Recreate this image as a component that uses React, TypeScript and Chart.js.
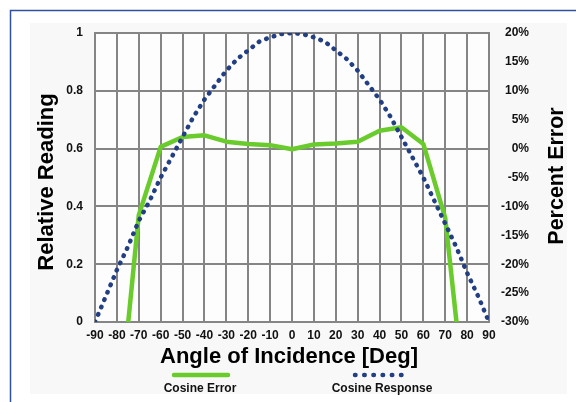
import React, { useEffect, useRef } from "react";
import { Chart, registerables } from "chart.js";

Chart.register(...registerables);

// ---- data ----
const responseAngles = [-90, -85, -80, -75, -70, -65, -60, -55, -50, -45, -40, -35, -30, -25, -20, -15, -10, -5, 0, 5, 10, 15, 20, 25, 30, 35, 40, 45, 50, 55, 60, 65, 70, 75, 80, 85, 90];
const responseValues = [0, 0.09, 0.18, 0.26, 0.35, 0.42, 0.5, 0.57, 0.64, 0.71, 0.77, 0.82, 0.87, 0.91, 0.94, 0.97, 0.985, 0.996, 1, 0.996, 0.985, 0.97, 0.94, 0.91, 0.87, 0.82, 0.77, 0.71, 0.64, 0.57, 0.5, 0.42, 0.34, 0.26, 0.17, 0.09, 0];

const errorAngles = [-80, -70, -60, -50, -40, -30, -20, -10, 0, 10, 20, 30, 40, 50, 60, 70, 80];
const errorValues = [-50, -11.5, 0.3, 2.0, 2.3, 1.2, 0.8, 0.6, -0.1, 0.7, 0.9, 1.2, 3.1, 3.7, 0.8, -12, -47];

const xTickStep = 10;
const leftTickStep = 0.2;
const rightTickStep = 5;

const seriesNames = ["Cosine Error", "Cosine Response"];
const xTitle = "Angle of Incidence [Deg]";
const leftTitle = "Relative Reading";
const rightTitle = "Percent Error";

const GREEN = "#6acb2c";
const NAVY = "#213f82";
const GRID = "#858585";
const FONT = "'Liberation Sans', Arial, Helvetica, sans-serif";

const decorPlugin = {
  id: "decor",
  beforeDraw(chart: any) {
    const ctx = chart.ctx as CanvasRenderingContext2D;
    const a = chart.chartArea;
    ctx.save();
    ctx.fillStyle = "#ffffff";
    ctx.fillRect(0, 0, chart.width, chart.height);
    ctx.fillStyle = "#f8f8f8";
    ctx.fillRect(30, 23, 537, 371);
    ctx.strokeStyle = "#2f52a0";
    ctx.lineWidth = 1.5;
    ctx.strokeRect(10.5, 10.5, 700, 500);
    ctx.fillStyle = "#fdfdfd";
    ctx.fillRect(a.left, a.top, a.right - a.left, a.bottom - a.top);
    ctx.restore();
  },
  afterDraw(chart: any) {
    const ctx = chart.ctx as CanvasRenderingContext2D;
    const a = chart.chartArea;
    const midX = (a.left + a.right) / 2;
    ctx.save();
    ctx.fillStyle = "#000";
    ctx.textBaseline = "alphabetic";
    ctx.textAlign = "center";

    // x title
    ctx.font = `bold 22px ${FONT}`;
    ctx.fillText(xTitle, midX - 3, 363);

    // left title
    ctx.save();
    ctx.translate(53, 182);
    ctx.rotate(-Math.PI / 2);
    ctx.font = `bold 22px ${FONT}`;
    ctx.fillText(leftTitle, 0, 0);
    ctx.restore();

    // right title
    ctx.save();
    ctx.translate(563, 176);
    ctx.rotate(-Math.PI / 2);
    ctx.font = `bold 21.5px ${FONT}`;
    ctx.fillText(rightTitle, 0, 0);
    ctx.restore();

    // legend
    const dsErr = chart.data.datasets[1];
    const dsResp = chart.data.datasets[0];
    ctx.lineCap = "round";
    ctx.strokeStyle = dsErr.borderColor;
    ctx.lineWidth = dsErr.borderWidth;
    ctx.beginPath();
    ctx.moveTo(174, 375);
    ctx.lineTo(228, 375);
    ctx.stroke();

    ctx.strokeStyle = dsResp.borderColor;
    ctx.lineWidth = dsResp.borderWidth;
    ctx.setLineDash([0.5, 8.7]);
    ctx.beginPath();
    ctx.moveTo(355, 375);
    ctx.lineTo(409, 375);
    ctx.stroke();
    ctx.setLineDash([]);

    ctx.font = `bold 12px ${FONT}`;
    ctx.fillStyle = "#111";
    ctx.fillText(dsErr.label, 200, 392);
    ctx.fillText(dsResp.label, 382, 392);
    ctx.restore();
  },
};

export default function App() {
  const ref = useRef<HTMLCanvasElement | null>(null);

  useEffect(() => {
    if (!ref.current) return;
    const chart = new Chart(ref.current, {
      type: "line",
      data: {
        datasets: [
          {
            label: seriesNames[1],
            data: responseAngles.map((x, i) => ({ x, y: responseValues[i] })),
            yAxisID: "yL",
            borderColor: NAVY,
            borderWidth: 4.5,
            borderDash: [0.5, 7.5],
            borderCapStyle: "round",
            pointRadius: 0,
            fill: false,
            tension: 0,
            order: 0,
          },
          {
            label: seriesNames[0],
            data: errorAngles.map((x, i) => ({ x, y: errorValues[i] })),
            yAxisID: "yR",
            borderColor: GREEN,
            borderWidth: 4.5,
            pointRadius: 0,
            fill: false,
            tension: 0,
            borderJoinStyle: "round",
            order: 1,
          },
        ],
      } as any,
      options: {
        responsive: false,
        animation: false,
        devicePixelRatio: 1,
        layout: { padding: { left: 0, top: 33, right: 47, bottom: 0 } },
        plugins: {
          legend: { display: false },
          tooltip: { enabled: false },
          title: { display: false },
        },
        scales: {
          x: {
            type: "linear",
            min: -90,
            max: 90,
            afterFit: (s: any) => {
              s.height = 80;
            },
            ticks: {
              stepSize: xTickStep,
              padding: 6,
              color: "#111",
              font: { family: FONT, size: 12, weight: "bold" },
              maxRotation: 0,
              autoSkip: false,
            },
            grid: { color: GRID, lineWidth: 2, drawTicks: false },
            border: { color: GRID, width: 2 },
          },
          yL: {
            type: "linear",
            position: "left",
            min: 0,
            max: 1,
            afterFit: (s: any) => {
              s.width = 95;
            },
            ticks: {
              stepSize: leftTickStep,
              padding: 12,
              color: "#111",
              font: { family: FONT, size: 12, weight: "bold" },
              callback: (v: any) => String(Math.round(Number(v) * 10) / 10),
            },
            grid: { color: GRID, lineWidth: 2, drawTicks: false },
            border: { color: GRID, width: 2 },
          },
          yR: {
            type: "linear",
            position: "right",
            min: -30,
            max: 20,
            afterFit: (s: any) => {
              s.width = 40;
            },
            ticks: {
              stepSize: rightTickStep,
              padding: 12,
              crossAlign: "far",
              color: "#111",
              font: { family: FONT, size: 12, weight: "bold" },
              callback: (v: any) => `${v}%`,
            },
            grid: { display: false, drawTicks: false },
            border: { color: GRID, width: 2 },
          },
        },
      } as any,
      plugins: [decorPlugin],
    });
    return () => chart.destroy();
  }, []);

  return (
    <div style={{ position: "fixed", left: 0, top: 0, width: 576, height: 402 }}>
      <canvas ref={ref} width={576} height={402} />
    </div>
  );
}
